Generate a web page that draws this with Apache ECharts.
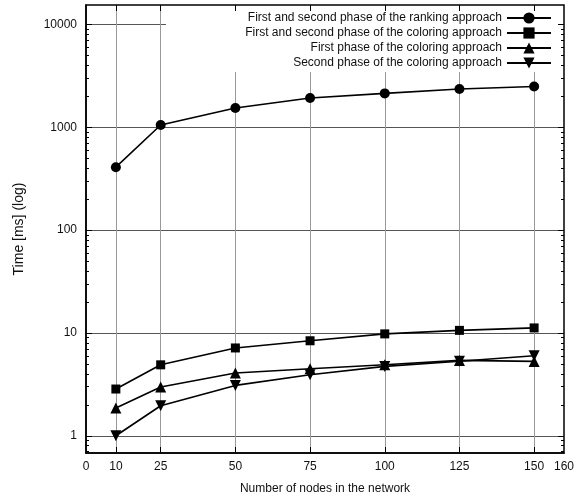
<!DOCTYPE html>
<html>
<head>
<meta charset="utf-8">
<script src="https://cdn.jsdelivr.net/npm/echarts@6/dist/echarts.min.js"></script>
<style>html,body{margin:0;padding:0;background:#fff;}#c{width:586px;height:501px;}</style>
</head>
<body>
<div id="c"></div>
<script>
// ---- data ----
const nodes = [10, 25, 50, 75, 100, 125, 150];
const rankingBoth = [410, 1055, 1545, 1930, 2140, 2360, 2500];
const coloringBoth = [2.85, 4.9, 7.15, 8.4, 9.8, 10.6, 11.2];
const coloringFirst = [1.86, 2.98, 4.08, 4.49, 4.91, 5.41, 5.29];
const coloringSecond = [1.0, 1.96, 3.09, 3.93, 4.73, 5.3, 6.0];
const seriesNames = [
  'First and second phase of the ranking approach',
  'First and second phase of the coloring approach',
  'First phase of the coloring approach',
  'Second phase of the coloring approach'
];
const xTickLabels = [0, 10, 25, 50, 75, 100, 125, 150, 160];
const xTicks = [10, 25, 50, 75, 100, 125, 150];
const yTickLabels = [1, 10, 100, 1000, 10000];
const yMin = 0.68, yMax = 15500;
const xMin = 0, xMax = 160;

// minor log ticks
const yMinor = [];
[0.1, 1, 10, 100, 1000, 10000].forEach(p => {
  for (let k = 2; k <= 9; k++) {
    const v = +(p * k).toPrecision(3);
    if (v > yMin && v < yMax) yMinor.push(v);
  }
});

const FONT = 'Liberation Sans, Arial, sans-serif';
const txt = { color: '#111', fontFamily: FONT, fontSize: 12 };

function pairs(vals) { return nodes.map((x, i) => [x, vals[i]]); }

const symbols = ['circle', 'rect', 'triangle', 'path://M0,0L20,0L10,17.32Z'];
const sizes = [10, 9, 11, 11];
const allVals = [rankingBoth, coloringBoth, coloringFirst, coloringSecond];

const series = allVals.map((vals, i) => ({
  name: seriesNames[i],
  type: 'line',
  data: pairs(vals),
  symbol: symbols[i],
  symbolSize: sizes[i],
  showAllSymbol: true,
  color: '#000',
  lineStyle: { color: '#000', width: 1.6 },
  itemStyle: { color: '#000' },
  z: 3,
  animation: false
}));

const legendTops = [11, 26, 41, 56];
const legends = seriesNames.map((n, i) => ({
  data: [n],
  right: 34,
  top: legendTops[i],
  orient: 'horizontal',
  align: 'right',
  padding: 0,
  itemWidth: 44,
  itemHeight: 14,
  itemGap: 0,
  selectedMode: false,
  textStyle: { color: '#111', fontFamily: FONT, fontSize: 12, lineHeight: 14, padding: [0, 0, 0, 0] },
  z: 6
}));

const option = {
  animation: false,
  backgroundColor: '#fff',
  grid: { left: 86, right: 22, top: 5, bottom: 48, show: true, borderColor: '#000', borderWidth: 1.5, backgroundColor: 'transparent' },
  legend: legends,
  graphic: [{
    type: 'rect', z: 1, silent: true,
    shape: { x: 166, y: 6, width: 397, height: 66 },
    style: { fill: '#fff' }
  }],
  xAxis: [{
    type: 'value', min: xMin, max: xMax, position: 'bottom',
    name: 'Number of nodes in the network', nameLocation: 'middle', nameGap: 30,
    nameTextStyle: txt,
    axisLine: { show: true, lineStyle: { color: '#000', width: 1.5 } },
    axisTick: { show: true, inside: true, length: 6, customValues: xTicks, lineStyle: { color: '#000' } },
    axisLabel: { customValues: xTickLabels, margin: 8, ...txt },
    splitLine: { show: true, lineStyle: { color: '#999', width: 1 } },
    z: 0
  }, {
    type: 'value', min: xMin, max: xMax, position: 'top',
    axisLine: { show: false },
    axisTick: { show: true, inside: true, length: 6, customValues: xTicks, lineStyle: { color: '#000' } },
    axisLabel: { show: false },
    splitLine: { show: false },
    z: 8
  }],
  yAxis: [{
    type: 'log', min: yMin, max: yMax, position: 'left',
    name: 'Time [ms] (log)', nameLocation: 'middle', nameGap: 60, nameRotate: 90,
    nameTextStyle: { ...txt, fontSize: 14 },
    axisLine: { show: true, lineStyle: { color: '#000', width: 1.5 } },
    axisTick: { show: true, inside: true, length: 6, customValues: yTickLabels, lineStyle: { color: '#000' } },
    axisLabel: { customValues: yTickLabels, margin: 9, formatter: v => String(Math.round(v)), ...txt },
    splitLine: { show: true, lineStyle: { color: '#555', width: 1 } },
    z: 0
  }, {
    type: 'log', min: yMin, max: yMax, position: 'left',
    axisLine: { show: false },
    axisTick: { show: true, inside: true, length: 3, customValues: yMinor, lineStyle: { color: '#000' } },
    axisLabel: { show: false },
    splitLine: { show: false },
    z: 8
  }, {
    type: 'log', min: yMin, max: yMax, position: 'right',
    axisLine: { show: false },
    axisTick: { show: true, inside: true, length: 6, customValues: yTickLabels, lineStyle: { color: '#000' } },
    axisLabel: { show: false },
    splitLine: { show: false },
    z: 8
  }, {
    type: 'log', min: yMin, max: yMax, position: 'right',
    axisLine: { show: false },
    axisTick: { show: true, inside: true, length: 3, customValues: yMinor, lineStyle: { color: '#000' } },
    axisLabel: { show: false },
    splitLine: { show: false },
    z: 8
  }],
  series: series
};

const chart = echarts.init(document.getElementById('c'), null, { renderer: 'canvas' });
chart.setOption(option);
</script>
</body>
</html>
